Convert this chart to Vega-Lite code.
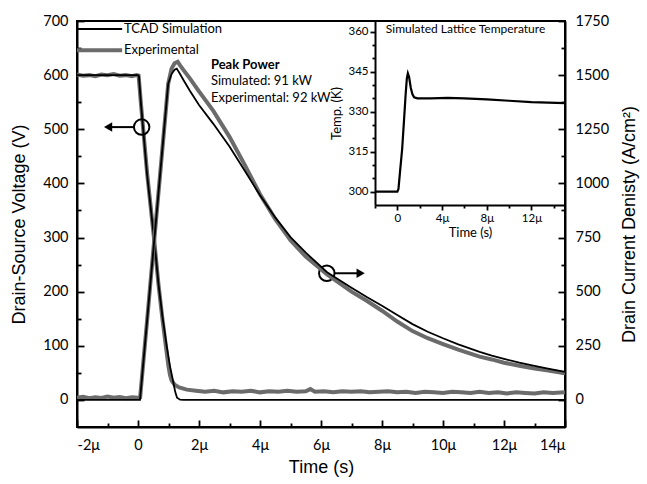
{
  "$schema": "https://vega.github.io/schema/vega-lite/v6.json",
  "width": 488,
  "height": 406,
  "autosize": "none",
  "padding": {"left": 77, "top": 21, "right": 82, "bottom": 57},
  "background": "white",
  "config": {
    "view": {"stroke": "black", "strokeWidth": 2},
    "axis": {
      "domainColor": "black", "domainWidth": 2, "tickColor": "black", "tickWidth": 1.8,
      "labelFont": "Lato", "labelFontSize": 14.5, "labelColor": "black",
      "titleFont": "Liberation Sans", "titleFontSize": 18, "titleFontWeight": "normal", "titleColor": "black",
      "grid": false
    },
    "text": {"font": "Lato", "fontSize": 13, "color": "black"}
  },
  "resolve": {"scale": {"x": "independent", "y": "independent"}},
  "layer": [
    {
      "encoding": {
        "x": {"field": "t", "type": "quantitative",
          "scale": {"domain": [-2, 14], "nice": false, "zero": false},
          "axis": {"title": "Time (s)", "values": [-2,-1,0,1,2,3,4,5,6,7,8,9,10,11,12,13,14],
            "labelExpr": "datum.value % 2 === 0 ? (datum.value === 0 ? '0' : datum.value + 'μ') : ''",
            "tickSize": {"condition": {"test": "datum.value % 2 === 0", "value": -7}, "value": -4},
            "labelPadding": 18, "titlePadding": 7}},
        "y": {"field": "V", "type": "quantitative",
          "scale": {"domain": [-50, 700], "nice": false, "zero": false},
          "axis": {"title": "Drain-Source Voltage (V)", "values": [0,50,100,150,200,250,300,350,400,450,500,550,600,650,700],
            "labelExpr": "datum.value % 100 === 0 ? datum.label : ''",
            "tickSize": {"condition": {"test": "datum.value % 100 === 0", "value": -7}, "value": -4},
            "labelPadding": 16, "titlePadding": 14}}
      },
      "layer": [
        {
          "data": {"values": [
            {"t": -2, "V": 601}, {"t": -1.8, "V": 599}, {"t": -1.6, "V": 600}, {"t": -1.4, "V": 598},
            {"t": -1.2, "V": 601}, {"t": -1.0, "V": 600}, {"t": -0.8, "V": 602}, {"t": -0.6, "V": 599},
            {"t": -0.4, "V": 600}, {"t": -0.2, "V": 598}, {"t": -0.05, "V": 600}, {"t": 0.02, "V": 599},
            {"t": 0.1, "V": 545}, {"t": 0.3, "V": 418}, {"t": 0.53, "V": 296}, {"t": 0.67, "V": 214},
            {"t": 0.8, "V": 150}, {"t": 0.94, "V": 88}, {"t": 1.0, "V": 62}, {"t": 1.05, "V": 46},
            {"t": 1.1, "V": 36}, {"t": 1.2, "V": 28}, {"t": 1.35, "V": 23}, {"t": 1.6, "V": 19},
            {"t": 1.9, "V": 17}, {"t": 2.2, "V": 15}, {"t": 2.5, "V": 17}, {"t": 2.8, "V": 14},
            {"t": 3.1, "V": 16}, {"t": 3.4, "V": 15}, {"t": 3.7, "V": 17}, {"t": 4.0, "V": 14},
            {"t": 4.3, "V": 16}, {"t": 4.6, "V": 15}, {"t": 4.9, "V": 17}, {"t": 5.2, "V": 15},
            {"t": 5.5, "V": 16}, {"t": 5.65, "V": 20}, {"t": 5.8, "V": 15}, {"t": 6.1, "V": 16},
            {"t": 6.4, "V": 14}, {"t": 6.7, "V": 16}, {"t": 7.0, "V": 15}, {"t": 7.3, "V": 16},
            {"t": 7.6, "V": 14}, {"t": 7.9, "V": 15}, {"t": 8.2, "V": 16}, {"t": 8.5, "V": 14},
            {"t": 8.8, "V": 15}, {"t": 9.1, "V": 13}, {"t": 9.4, "V": 15}, {"t": 9.7, "V": 14},
            {"t": 10.0, "V": 13}, {"t": 10.3, "V": 15}, {"t": 10.6, "V": 14}, {"t": 10.9, "V": 13},
            {"t": 11.2, "V": 15}, {"t": 11.5, "V": 13}, {"t": 11.8, "V": 14}, {"t": 12.1, "V": 12},
            {"t": 12.4, "V": 14}, {"t": 12.7, "V": 13}, {"t": 13.0, "V": 12}, {"t": 13.3, "V": 14},
            {"t": 13.6, "V": 13}, {"t": 14.0, "V": 14}
          ]},
          "mark": {"type": "line", "color": "#6b6b6b", "strokeWidth": 4}
        },
        {
          "data": {"values": [
            {"t": -2, "V": 600}, {"t": 0, "V": 600}, {"t": 0.03, "V": 598}, {"t": 0.1, "V": 545},
            {"t": 0.3, "V": 415}, {"t": 0.53, "V": 297}, {"t": 0.67, "V": 215}, {"t": 0.8, "V": 155},
            {"t": 0.94, "V": 100}, {"t": 1.05, "V": 62}, {"t": 1.15, "V": 35}, {"t": 1.22, "V": 15},
            {"t": 1.28, "V": 4}, {"t": 1.38, "V": 0.5}, {"t": 1.5, "V": 0}, {"t": 14, "V": 0}
          ]},
          "mark": {"type": "line", "color": "black", "strokeWidth": 1.8}
        },
        {
          "data": {"values": [{"t": -2, "V": 685}, {"t": -0.52, "V": 685}]},
          "mark": {"type": "line", "color": "black", "strokeWidth": 2, "clip": false}
        },
        {
          "data": {"values": [{"t": -2, "V": 646}, {"t": -0.52, "V": 646}]},
          "mark": {"type": "line", "color": "#6b6b6b", "strokeWidth": 4, "clip": false}
        },
        {
          "data": {"values": [
            {"t": -0.46, "V": 685, "label": "TCAD Simulation"},
            {"t": -0.46, "V": 646, "label": "Experimental"}
          ]},
          "mark": {"type": "text", "align": "left", "baseline": "middle"},
          "encoding": {"text": {"field": "label"}}
        },
        {
          "data": {"values": [{"t": 2.39, "V": 619, "label": "Peak Power"}]},
          "mark": {"type": "text", "align": "left", "baseline": "middle", "fontWeight": "bold"},
          "encoding": {"text": {"field": "label"}}
        },
        {
          "data": {"values": [
            {"t": 2.39, "V": 589, "label": "Simulated: 91 kW"},
            {"t": 2.39, "V": 558, "label": "Experimental: 92 kW"}
          ]},
          "mark": {"type": "text", "align": "left", "baseline": "middle"},
          "encoding": {"text": {"field": "label"}}
        },
        {
          "data": {"values": [{"t": 0.12, "V": 504}, {"t": 6.19, "V": 234}]},
          "mark": {"type": "point", "shape": "circle", "size": 240, "filled": false, "stroke": "black", "strokeWidth": 2, "opacity": 1}
        },
        {
          "data": {"values": [{"t": -0.95, "t2": -0.13, "V": 504}, {"t": 6.44, "t2": 7.25, "V": 234}]},
          "mark": {"type": "rule", "color": "black", "strokeWidth": 2},
          "encoding": {"x2": {"field": "t2"}}
        },
        {
          "data": {"values": [{"t": -0.98, "V": 504, "dir": "triangle-left"}, {"t": 7.3, "V": 234, "dir": "triangle-right"}]},
          "mark": {"type": "point", "filled": true, "size": 90, "color": "black", "opacity": 1},
          "encoding": {"shape": {"field": "dir", "scale": null}}
        }
      ]
    },
    {
      "encoding": {
        "x": {"field": "t", "type": "quantitative", "scale": {"domain": [-2, 14], "nice": false, "zero": false}, "axis": null},
        "y": {"field": "J", "type": "quantitative",
          "scale": {"domain": [-125, 1750], "nice": false, "zero": false},
          "axis": {"orient": "right", "title": "Drain Current Denisty (A/cm²)", "titleAngle": 270, "format": "d",
            "values": [0,125,250,375,500,625,750,875,1000,1125,1250,1375,1500,1625,1750],
            "labelExpr": "datum.value % 250 === 0 ? datum.label : ''",
            "tickSize": {"condition": {"test": "datum.value % 250 === 0", "value": -7}, "value": -4},
            "labelPadding": 17, "titlePadding": 30}}
      },
      "layer": [
        {
          "data": {"values": [
            {"t": -2, "J": 10}, {"t": -1.8, "J": 14}, {"t": -1.6, "J": 8}, {"t": -1.4, "J": 12},
            {"t": -1.2, "J": 9}, {"t": -1.0, "J": 16}, {"t": -0.8, "J": 10}, {"t": -0.6, "J": 13},
            {"t": -0.4, "J": 8}, {"t": -0.2, "J": 12}, {"t": 0, "J": 10}, {"t": 0.07, "J": 12},
            {"t": 0.3, "J": 370}, {"t": 0.53, "J": 735}, {"t": 0.8, "J": 1160}, {"t": 0.99, "J": 1460},
            {"t": 1.1, "J": 1530}, {"t": 1.2, "J": 1555}, {"t": 1.3, "J": 1562}, {"t": 1.38, "J": 1545},
            {"t": 1.5, "J": 1522}, {"t": 1.7, "J": 1485}, {"t": 2.0, "J": 1425}, {"t": 2.47, "J": 1335},
            {"t": 3.0, "J": 1215}, {"t": 3.5, "J": 1085}, {"t": 4.0, "J": 950}, {"t": 4.5, "J": 835},
            {"t": 5.0, "J": 737}, {"t": 5.5, "J": 662}, {"t": 6.2, "J": 580}, {"t": 7.0, "J": 500},
            {"t": 7.5, "J": 458}, {"t": 8.0, "J": 412}, {"t": 8.5, "J": 362}, {"t": 9.0, "J": 318},
            {"t": 9.5, "J": 285}, {"t": 10.0, "J": 258}, {"t": 10.5, "J": 232}, {"t": 11.2, "J": 200},
            {"t": 11.6, "J": 187}, {"t": 12.0, "J": 172}, {"t": 12.5, "J": 158}, {"t": 13.0, "J": 145},
            {"t": 13.4, "J": 137}, {"t": 13.7, "J": 130}, {"t": 14.0, "J": 123}
          ]},
          "mark": {"type": "line", "color": "#6b6b6b", "strokeWidth": 4}
        },
        {
          "data": {"values": [
            {"t": -2, "J": 0}, {"t": 0.066, "J": 0}, {"t": 0.3, "J": 370}, {"t": 0.53, "J": 733},
            {"t": 0.8, "J": 1160}, {"t": 0.99, "J": 1460}, {"t": 1.1, "J": 1505}, {"t": 1.2, "J": 1525},
            {"t": 1.27, "J": 1530}, {"t": 1.35, "J": 1512}, {"t": 1.5, "J": 1475}, {"t": 1.7, "J": 1428},
            {"t": 2.0, "J": 1362}, {"t": 2.47, "J": 1275}, {"t": 3.0, "J": 1170}, {"t": 3.5, "J": 1058},
            {"t": 4.0, "J": 945}, {"t": 4.5, "J": 843}, {"t": 5.0, "J": 752}, {"t": 5.5, "J": 680},
            {"t": 6.2, "J": 590}, {"t": 7.0, "J": 518}, {"t": 7.5, "J": 475}, {"t": 8.0, "J": 435},
            {"t": 8.5, "J": 392}, {"t": 9.0, "J": 350}, {"t": 9.5, "J": 315}, {"t": 10.0, "J": 285},
            {"t": 10.5, "J": 257}, {"t": 11.2, "J": 222}, {"t": 11.6, "J": 205}, {"t": 12.0, "J": 190},
            {"t": 12.5, "J": 172}, {"t": 13.0, "J": 157}, {"t": 13.4, "J": 146}, {"t": 13.7, "J": 138},
            {"t": 14.0, "J": 130}
          ]},
          "mark": {"type": "line", "color": "black", "strokeWidth": 1.8}
        }
      ]
    },
    {
      "encoding": {
        "x": {"field": "t", "type": "quantitative",
          "scale": {"domain": [-2, 15], "range": [298, 488], "nice": false, "zero": false},
          "axis": {"orient": "bottom", "offset": -222, "title": "Time (s)", "values": [-2,0,2,4,6,8,10,12,14],
            "labelExpr": "datum.value % 4 === 0 ? (datum.value === 0 ? '0' : datum.value + 'μ') : ''",
            "tickSize": {"condition": {"test": "datum.value % 4 === 0", "value": 5}, "value": 3},
            "labelPadding": 2, "labelFontSize": 11.5, "titleFont": "Lato", "titleFontSize": 13, "titlePadding": 3}},
        "y": {"field": "T", "type": "quantitative",
          "scale": {"domain": [295, 364], "range": [184, 0], "nice": false, "zero": false},
          "axis": {"orient": "left", "offset": -298, "title": "Temp. (K)",
            "values": [300,305,310,315,320,325,330,335,340,345,350,355,360],
            "labelExpr": "(datum.value - 300) % 15 === 0 ? datum.label : ''",
            "tickSize": {"condition": {"test": "(datum.value - 300) % 15 === 0", "value": 5}, "value": 3},
            "labelPadding": 2, "labelFontSize": 11.5, "titleFont": "Lato", "titleFontSize": 13, "titlePadding": 4}}
      },
      "layer": [
        {
          "data": {"values": [
            {"t": -2, "T": 300}, {"t": 0, "T": 300}, {"t": 0.1, "T": 301}, {"t": 0.25, "T": 308},
            {"t": 0.43, "T": 316}, {"t": 0.6, "T": 327}, {"t": 0.75, "T": 337}, {"t": 0.85, "T": 342.5},
            {"t": 0.94, "T": 344.4}, {"t": 1.05, "T": 343}, {"t": 1.2, "T": 339}, {"t": 1.35, "T": 336.5},
            {"t": 1.5, "T": 335.4}, {"t": 1.8, "T": 335}, {"t": 3, "T": 335}, {"t": 4.5, "T": 335.2},
            {"t": 6, "T": 335}, {"t": 8, "T": 334.6}, {"t": 10, "T": 334.1}, {"t": 12, "T": 333.6},
            {"t": 15, "T": 333.2}
          ]},
          "mark": {"type": "line", "color": "black", "strokeWidth": 2.2}
        },
        {
          "data": {"values": [{"t": 6.1, "T": 361, "label": "Simulated Lattice Temperature"}]},
          "mark": {"type": "text", "align": "center", "baseline": "middle", "fontSize": 12},
          "encoding": {"text": {"field": "label"}}
        }
      ]
    }
  ]
}
